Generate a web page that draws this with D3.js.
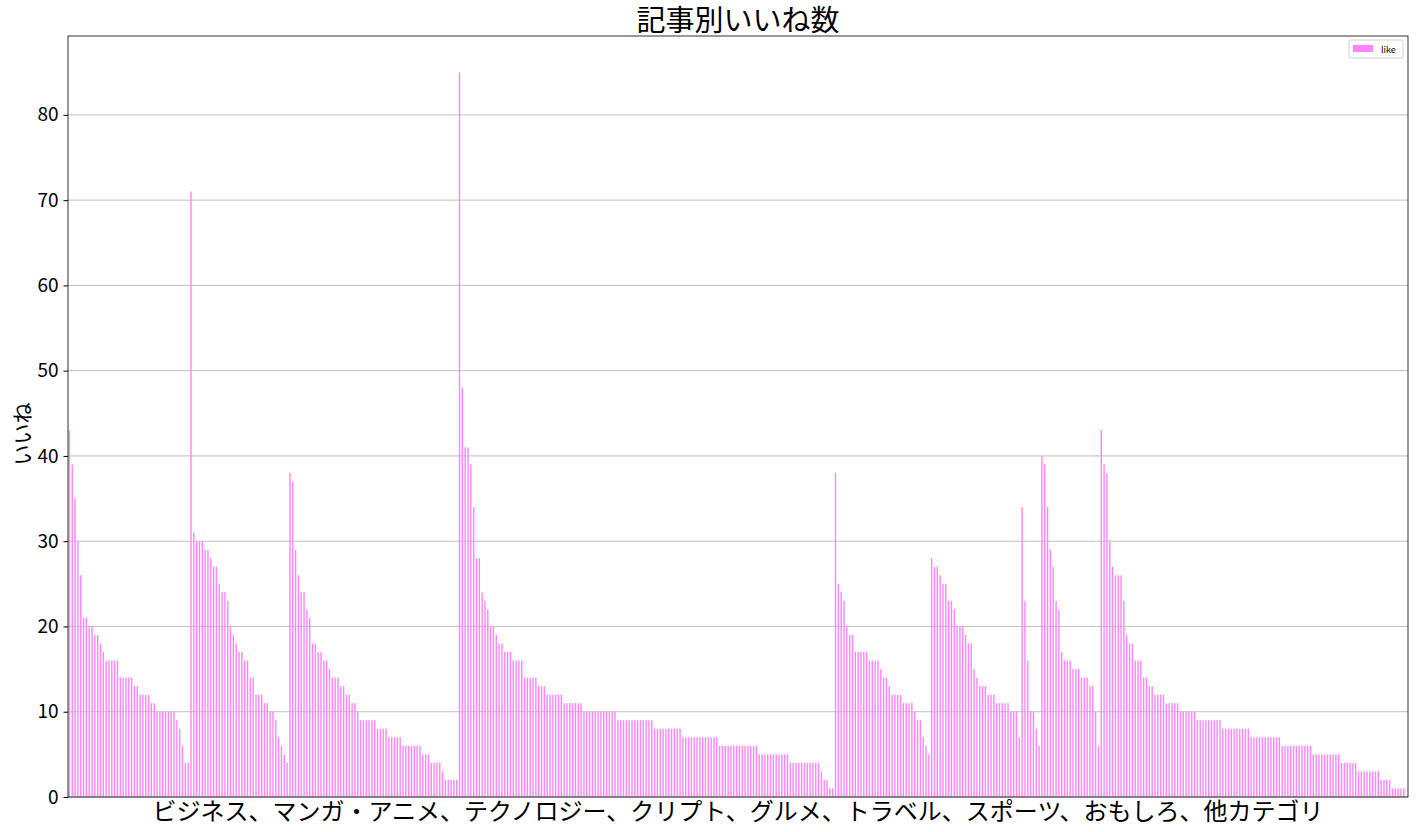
<!DOCTYPE html>
<html>
<head>
<meta charset="utf-8">
<script src="https://cdn.jsdelivr.net/npm/d3@7"></script>
<style>
  body { margin: 0; background: #fff; }
  text { font-family: "Noto Sans CJK JP", "Noto Sans", sans-serif; }
</style>
</head>
<body>
<div id="chart"></div>
<script>
// likes per article, sorted within each category
var categories = ['ビジネス', 'マンガ・アニメ', 'テクノロジー', 'クリプト', 'グルメ', 'トラベル', 'スポーツ', 'おもしろ', '他カテゴリ']

var businessLikes = [43,39,35,30,26,21,21,20,20,19,19,18,17,16,16,16,16,16,14,14,14,14,14,13,13,12,12,12,12,11,11,10,10,10,10,10,10,10,9,8,6,4,4]
var mangaLikes = [71,31,30,30,30,29,29,28,27,27,25,24,24,23,20,19,18,17,17,16,16,14,14,12,12,12,11,11,10,10,9,7,6,5,4]
var techLikes = [38,37,29,26,24,24,22,21,18,18,17,17,16,16,15,14,14,14,13,13,12,12,11,11,10,9,9,9,9,9,9,8,8,8,8,7,7,7,7,7,
    6,6,6,6,6,6,6,5,5,5,4,4,4,4,3,2,2,2,2,2]
var cryptoLikes = [85,48,41,41,39,34,28,28,24,23,22,20,20,19,18,18,17,17,17,16,16,16,16,14,14,14,14,14,13,13,13,
    12,12,12,12,12,12,11,11,11,11,11,11,11,10,10,10,10,10,10,10,10,10,10,10,10,
    9,9,9,9,9,9,9,9,9,9,9,9,9,8,8,8,8,8,8,8,8,8,8,
    7,7,7,7,7,7,7,7,7,7,7,7,7,6,6,6,6,6,6,6,6,6,6,6,6,6,6,
    5,5,5,5,5,5,5,5,5,5,5,4,4,4,4,4,4,4,4,4,4,4,3,2,2,1,1]
var gourmetLikes = [38,25,24,23,20,19,19,17,17,17,17,17,16,16,16,16,15,14,14,13,12,12,12,12,11,11,11,11,10,9,9,7,6,5]
var travelLikes = [28,27,27,26,25,25,23,23,22,20,20,20,19,18,18,15,14,13,13,13,12,12,12,11,11,11,11,11,10,10,10,7]
var sportsLikes = [34,23,16,10,10,8,6]
var funnyLikes = [40,39,34,29,27,23,22,17,16,16,16,15,15,15,14,14,14,13,13,10,6]
var otherLikes = [43,39,38,30,27,26,26,26,23,19,18,18,16,16,16,14,14,13,13,12,12,12,12,11,11,11,11,11,
    10,10,10,10,10,10,9,9,9,9,9,9,9,9,9,8,8,8,8,8,8,8,8,8,8,
    7,7,7,7,7,7,7,7,7,7,7,6,6,6,6,6,6,6,6,6,6,6,
    5,5,5,5,5,5,5,5,5,5,4,4,4,4,4,4,3,3,3,3,3,3,3,3,2,2,2,2,1,1,1,1,1,0]

var yTicks = [0,10,20,30,40,50,60,70,80]

var likes = [].concat(businessLikes, mangaLikes, techLikes, cryptoLikes, gourmetLikes,
    travelLikes, sportsLikes, funnyLikes, otherLikes)

var width = 1417, height = 832
var margin = {left: 68, right: 9, top: 36, bottom: 35}

var svg = d3.select('#chart')
    .append('svg')
    .attr('width', width)
    .attr('height', height)

var x = d3.scaleBand()
    .domain(d3.range(likes.length))
    .range([margin.left, width - margin.right])
    .paddingInner(0.5)
    .paddingOuter(0.25)

var y = d3.scaleLinear()
    .domain([0, d3.max(likes) * 1.05])
    .range([height - margin.bottom, margin.top])

// grid
svg.append('g')
    .selectAll('line')
    .data(yTicks)
    .enter()
    .append('line')
    .attr('x1', margin.left)
    .attr('x2', width - margin.right)
    .attr('y1', d => y(d))
    .attr('y2', d => y(d))
    .attr('stroke', '#b0b0b0')
    .attr('stroke-width', 0.8)

svg.append('g')
    .selectAll('rect')
    .data(likes)
    .enter()
    .append('rect')
    .attr('x', (d, i) => x(i))
    .attr('width', x.bandwidth())
    .attr('y', d => y(d))
    .attr('height', d => y(0) - y(d))
    .attr('fill', '#ff85ff')

var yAxis = svg.append('g')
    .attr('transform', `translate(${margin.left},0)`)
    .call(d3.axisLeft(y).tickValues(yTicks).tickSize(4.5).tickPadding(5))
yAxis.select('.domain').remove()
yAxis.selectAll('text')
    .style('font-size', '19px')
    .attr('fill', '#000')

// frame
svg.append('rect')
    .attr('x', margin.left)
    .attr('y', margin.top)
    .attr('width', width - margin.right - margin.left)
    .attr('height', height - margin.bottom - margin.top)
    .attr('fill', 'none')
    .attr('stroke', '#000')
    .attr('stroke-width', 0.8)

svg.append('text')
    .attr('x', (margin.left + width - margin.right) / 2)
    .attr('y', 31)
    .attr('text-anchor', 'middle')
    .style('font-size', '29px')
    .text('記事別いいね数')

svg.append('text')
    .attr('transform', 'translate(30,434) rotate(-90)')
    .attr('text-anchor', 'middle')
    .style('font-size', '21px')
    .text('いいね')

svg.append('text')
    .attr('x', (margin.left + width - margin.right) / 2)
    .attr('y', 820)
    .attr('text-anchor', 'middle')
    .style('font-size', '24px')
    .text(categories.join('、'))

// legend
var legend = svg.append('g').attr('transform', 'translate(1349,40)')
legend.append('rect')
    .attr('width', 54).attr('height', 18).attr('rx', 2)
    .attr('fill', '#fff').attr('stroke', '#d0d0d0')
legend.append('rect')
    .attr('x', 4).attr('y', 5).attr('width', 20).attr('height', 7)
    .attr('fill', '#ff85ff')
legend.append('text')
    .attr('x', 32).attr('y', 12.5)
    .style('font-size', '9px')
    .text('like')
</script>
</body>
</html>
